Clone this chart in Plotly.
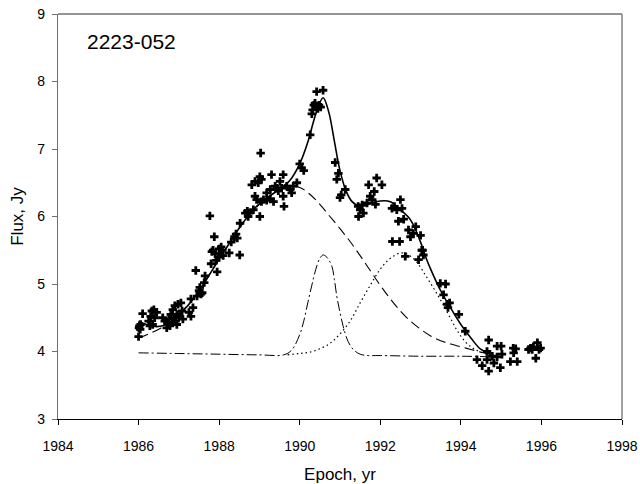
import plotly.graph_objects as go

# ---------------- data ----------------
obs_year = [
    1986.00, 1986.01, 1986.02, 1986.04, 1986.05, 1986.10,
    1986.25, 1986.28, 1986.30, 1986.33, 1986.35, 1986.38, 1986.40, 1986.45,
    1986.60, 1986.65, 1986.70, 1986.72, 1986.75, 1986.78, 1986.80, 1986.83,
    1986.85, 1986.88, 1986.90, 1986.92, 1986.95, 1986.95, 1986.98, 1987.00,
    1987.05, 1987.08, 1987.10,
    1987.25, 1987.30, 1987.30, 1987.35, 1987.42, 1987.45, 1987.50, 1987.52,
    1987.55, 1987.58, 1987.63, 1987.65,
    1987.77, 1987.80, 1987.82, 1987.85, 1987.88, 1987.90, 1987.93, 1987.95,
    1987.98, 1988.00, 1988.02, 1988.05, 1988.08, 1988.10,
    1988.25, 1988.30, 1988.38, 1988.42, 1988.45, 1988.51, 1988.52,
    1988.65, 1988.70, 1988.72, 1988.75, 1988.81, 1988.85, 1988.89, 1988.89,
    1988.93, 1988.97, 1989.01, 1989.01, 1989.03, 1989.05, 1989.05,
    1989.10, 1989.18, 1989.18, 1989.27, 1989.27, 1989.30, 1989.35, 1989.39,
    1989.43, 1989.47, 1989.51, 1989.55, 1989.59, 1989.59, 1989.61, 1989.68,
    1989.76, 1989.80, 1989.84, 1989.93,
    1990.00, 1990.05, 1990.10, 1990.26, 1990.30, 1990.32, 1990.35, 1990.38,
    1990.42, 1990.45, 1990.48, 1990.52, 1990.42, 1990.58,
    1990.88, 1990.92, 1990.96, 1991.00, 1991.03, 1991.13,
    1991.45, 1991.46, 1991.50, 1991.55, 1991.58,
    1991.67, 1991.71, 1991.75, 1991.80, 1991.85, 1991.88, 1991.91, 1992.04,
    1992.29, 1992.35, 1992.41, 1992.45, 1992.50, 1992.54, 1992.58,
    1992.30, 1992.48, 1992.62, 1992.70, 1992.75, 1992.82, 1992.88, 1992.95,
    1993.00, 1993.03, 1993.05, 1993.07,
    1993.49, 1993.57, 1993.62, 1993.66, 1993.68, 1993.72, 1993.95, 1994.11,
    1994.40, 1994.53, 1994.65, 1994.65, 1994.69, 1994.69, 1994.78, 1994.82,
    1994.90, 1994.90, 1994.98, 1995.00, 1995.02,
    1995.23, 1995.30, 1995.31, 1995.36, 1995.40,
    1995.68, 1995.73, 1995.77, 1995.80, 1995.86, 1995.90, 1995.94, 1995.98,
]
obs_flux = [
    4.22, 4.35, 4.38, 4.33, 4.40, 4.56,
    4.45, 4.38, 4.52, 4.60, 4.40, 4.62, 4.50, 4.58,
    4.50, 4.45, 4.35, 4.42, 4.48, 4.38, 4.55, 4.43,
    4.62, 4.50, 4.68, 4.45, 4.55, 4.40, 4.70, 4.52,
    4.72, 4.60, 4.48,
    4.58, 4.52, 4.78, 4.65, 5.20, 4.82, 4.90, 4.95,
    4.85, 4.87, 5.02, 5.12,
    6.01, 5.30, 5.48, 5.50, 5.70, 5.45, 5.35, 5.18,
    5.40, 5.52, 5.45, 5.55, 5.50, 5.42,
    5.46, 5.62, 5.70, 5.74, 5.68, 5.43, 5.90,
    6.05, 6.08, 6.00, 6.05, 6.47, 6.10, 6.52, 6.30,
    6.25, 6.50, 6.59, 6.00, 6.94, 6.55, 6.22,
    6.25, 6.24, 6.35, 6.26, 6.40, 6.62, 6.22, 6.45,
    6.42, 6.38, 6.52, 6.42, 6.62, 6.30, 6.15, 6.45,
    6.40, 6.35, 6.45, 6.50,
    6.78, 6.72, 6.68, 7.21, 7.52, 7.58, 7.65, 7.68,
    7.62, 7.60, 7.65, 7.62, 7.85, 7.87,
    6.80, 6.55, 6.64, 6.28, 6.32, 6.40,
    6.15, 6.00, 6.10, 6.17, 6.05,
    6.20, 6.47, 6.30, 6.25, 6.37, 6.18, 6.57, 6.47,
    6.12, 6.15, 6.10, 5.93, 6.25, 6.12, 5.96,
    5.63, 5.63, 5.41, 5.80, 5.70, 5.75, 5.85, 5.36,
    5.72, 5.50, 5.50, 5.43,
    5.01, 4.84, 5.00, 4.70, 4.65, 4.72, 4.55, 4.30,
    3.88, 3.79, 3.88, 4.00, 3.71, 4.17, 3.93, 3.83,
    3.92, 4.08, 3.76, 4.08, 3.96,
    3.85, 4.05, 3.98, 4.04, 3.85,
    4.03, 4.05, 4.03, 4.07, 3.90, 4.13, 4.03, 4.05,
]

fit_year = [1986.0, 1986.2, 1986.4, 1986.6, 1986.8, 1987.0, 1987.25, 1987.5,
            1987.75, 1988.0, 1988.25, 1988.5, 1988.75, 1989.0, 1989.25, 1989.5,
            1989.75, 1990.0, 1990.2, 1990.4, 1990.58, 1990.72, 1990.85, 1991.0,
            1991.15, 1991.3, 1991.5, 1991.75, 1992.0, 1992.25, 1992.5, 1992.75,
            1993.0, 1993.12, 1993.25, 1993.5, 1993.75, 1994.0, 1994.25, 1994.5,
            1994.8]
fit_flux = [4.45, 4.40, 4.37, 4.38, 4.44, 4.55, 4.70, 4.90,
            5.13, 5.37, 5.60, 5.83, 6.03, 6.19, 6.30, 6.41,
            6.53, 6.78, 7.10, 7.52, 7.76, 7.55, 7.15, 6.68,
            6.38, 6.22, 6.15, 6.19, 6.23, 6.22, 6.10, 5.95,
            5.62, 5.41, 5.22, 4.90, 4.64, 4.40, 4.20, 4.03,
            3.95]

slow_year = [1986.0, 1986.25, 1986.5, 1986.75, 1987.0, 1987.25, 1987.5, 1987.75,
             1988.0, 1988.25, 1988.5, 1988.75, 1989.0, 1989.25, 1989.5, 1989.75,
             1990.0, 1990.25, 1990.5, 1990.75, 1991.0, 1991.25, 1991.5, 1991.75,
             1992.0, 1992.25, 1992.5, 1992.75, 1993.0, 1993.25, 1993.5, 1993.75,
             1994.0, 1994.25, 1994.5, 1994.8]
slow_flux = [4.20, 4.26, 4.33, 4.42, 4.55, 4.70, 4.90, 5.13,
             5.37, 5.60, 5.83, 6.02, 6.18, 6.30, 6.39, 6.44,
             6.43, 6.33, 6.18, 6.00, 5.82, 5.63, 5.42, 5.20,
             4.98, 4.78, 4.60, 4.45, 4.33, 4.23, 4.16, 4.11,
             4.07, 4.03, 3.99, 3.95]

flare1_year = [1986.0, 1987.0, 1988.0, 1989.0, 1989.6, 1989.8, 1990.0, 1990.1,
               1990.2, 1990.3, 1990.4, 1990.5, 1990.58, 1990.65, 1990.72, 1990.8,
               1990.86, 1990.92, 1991.0, 1991.08, 1991.2, 1991.33, 1991.5, 1991.7,
               1992.0, 1993.0, 1994.0, 1994.9]
flare1_flux = [3.98, 3.97, 3.96, 3.95, 3.95, 4.02, 4.25, 4.45,
               4.72, 4.98, 5.22, 5.38, 5.43, 5.41, 5.36, 5.26,
               5.07, 4.82, 4.58, 4.37, 4.15, 4.03, 3.96, 3.94,
               3.94, 3.93, 3.93, 3.92]

flare2_year = [1989.7, 1990.0, 1990.25, 1990.5, 1990.75, 1991.0, 1991.25, 1991.5,
               1991.75, 1992.0, 1992.25, 1992.5, 1992.7, 1992.9, 1993.1, 1993.3,
               1993.5, 1993.7, 1993.9, 1994.1, 1994.3, 1994.5, 1994.8]
flare2_flux = [3.95, 3.97, 3.99, 4.04, 4.12, 4.26, 4.45, 4.72,
               4.98, 5.22, 5.38, 5.46, 5.43, 5.33, 5.15, 4.96,
               4.76, 4.54, 4.32, 4.15, 4.05, 3.99, 3.94]

x_ticks = [1984, 1986, 1988, 1990, 1992, 1994, 1996, 1998]
y_ticks = [3, 4, 5, 6, 7, 8, 9]
source_name = "2223-052"

# ---------------- figure ----------------
FONT = "Arial, 'Liberation Sans', Helvetica, sans-serif"
fig = go.Figure()

fig.add_trace(go.Scatter(x=slow_year, y=slow_flux, mode="lines", line_shape="spline",
                         line=dict(color="black", width=1.1, dash="10px,5px"),
                         hoverinfo="skip", showlegend=False))
fig.add_trace(go.Scatter(x=flare1_year, y=flare1_flux, mode="lines", line_shape="spline",
                         line=dict(color="black", width=1.0, dash="10px,3px,2px,3px"),
                         hoverinfo="skip", showlegend=False))
fig.add_trace(go.Scatter(x=flare2_year, y=flare2_flux, mode="lines", line_shape="spline",
                         line=dict(color="black", width=1.2, dash="1.5px,3px"),
                         hoverinfo="skip", showlegend=False))
fig.add_trace(go.Scatter(x=fit_year, y=fit_flux, mode="lines", line_shape="spline",
                         line=dict(color="black", width=1.6),
                         hoverinfo="skip", showlegend=False))
fig.add_trace(go.Scatter(x=obs_year, y=obs_flux, mode="markers",
                         marker=dict(symbol="cross", size=7, color="black",
                                     line=dict(width=0)),
                         showlegend=False))

fig.add_annotation(x=1984.66, y=8.59, text=source_name, showarrow=False,
                   xanchor="left", yanchor="middle",
                   font=dict(family=FONT, size=21, color="black"))

# top and right frame lines (grey)
fig.add_shape(type="line", xref="paper", yref="paper", x0=0, x1=1, y0=1, y1=1,
              line=dict(color="#707070", width=1.3))
fig.add_shape(type="line", xref="paper", yref="paper", x0=1, x1=1, y0=0, y1=1,
              line=dict(color="#707070", width=1.3))

fig.update_layout(
    width=640, height=484,
    margin=dict(l=58, r=18, t=14, b=65),
    paper_bgcolor="white", plot_bgcolor="white",
    font=dict(family=FONT, size=14, color="black"),
    xaxis=dict(range=[1984, 1998], tickvals=x_ticks, ticktext=[str(v) for v in x_ticks],
               showgrid=False, zeroline=False, showline=True, linecolor="black",
               linewidth=1.3, ticks="outside", ticklen=5, tickcolor="black",
               tickwidth=1.2, tickfont=dict(size=14), automargin=False,
               ticklabelstandoff=9,
               title=dict(text="Epoch, yr", font=dict(size=17), standoff=17)),
    yaxis=dict(range=[3, 9], tickvals=y_ticks, showgrid=False, zeroline=False,
               showline=True, linecolor="#707070", linewidth=1.3, ticks="outside",
               ticklen=5, tickcolor="#707070", tickwidth=1.2, tickfont=dict(size=14),
               automargin=False, ticklabelstandoff=4,
               title=dict(text="Flux, Jy", font=dict(size=17), standoff=9)),
)

fig.write_html("out.html", config={"displayModeBar": False},
               post_script="document.body.style.margin='0';document.body.style.padding='0';")
